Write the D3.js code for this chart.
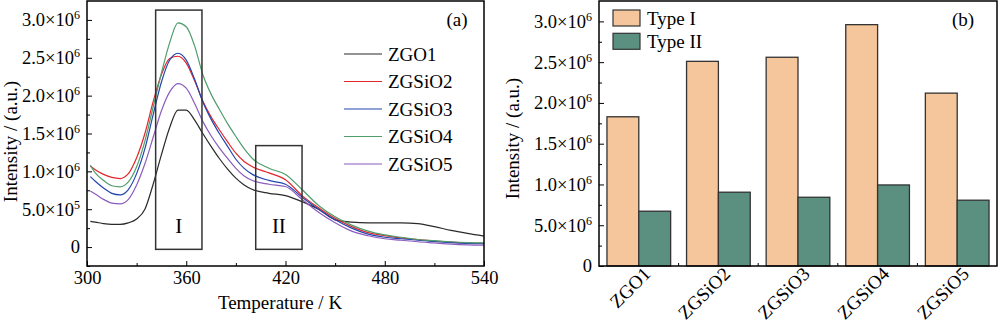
<!DOCTYPE html>
<html>
<head>
<meta charset="utf-8">
<script src="https://cdn.jsdelivr.net/npm/d3@7/dist/d3.min.js"></script>
<style>
  body { margin: 0; background: #fff; }
  svg { display: block; }
  text { font-family: "Liberation Serif", "Times New Roman", serif; fill: #000; }
</style>
</head>
<body>
<div id="chart"></div>
<script>
// Temperature grid (K) shared by all glow curves
const temps = [302, 305, 310, 315, 320, 325, 330, 335, 340, 345, 350, 355, 360, 365, 370, 375, 380, 385, 390, 395, 400, 410, 420, 430, 440, 450, 460, 470, 480, 490, 500, 510, 520, 530, 540];

// TL intensity in units of 1e6
const zgo1   = [0.34, 0.33, 0.31, 0.30, 0.30, 0.32, 0.37, 0.50, 0.83, 1.22, 1.58, 1.81, 1.81, 1.68, 1.50, 1.33, 1.17, 1.03, 0.91, 0.82, 0.76, 0.71, 0.68, 0.60, 0.50, 0.36, 0.33, 0.32, 0.32, 0.32, 0.31, 0.27, 0.22, 0.18, 0.145];
const zgsio2 = [1.07, 1.02, 0.96, 0.92, 0.905, 0.97, 1.18, 1.50, 1.92, 2.28, 2.49, 2.52, 2.43, 2.20, 1.93, 1.72, 1.55, 1.39, 1.24, 1.13, 1.06, 0.98, 0.89, 0.68, 0.52, 0.38, 0.27, 0.19, 0.15, 0.12, 0.10, 0.08, 0.065, 0.055, 0.05];
const zgsio3 = [0.93, 0.87, 0.78, 0.71, 0.69, 0.76, 0.97, 1.30, 1.75, 2.18, 2.47, 2.56, 2.47, 2.22, 1.92, 1.69, 1.50, 1.33, 1.16, 1.04, 0.96, 0.88, 0.83, 0.66, 0.50, 0.36, 0.25, 0.17, 0.13, 0.11, 0.09, 0.075, 0.06, 0.05, 0.045];
const zgsio4 = [1.08, 0.98, 0.88, 0.81, 0.795, 0.86, 1.06, 1.40, 1.85, 2.30, 2.70, 2.96, 2.91, 2.66, 2.28, 2.02, 1.82, 1.63, 1.46, 1.30, 1.17, 1.04, 0.96, 0.76, 0.55, 0.40, 0.29, 0.21, 0.16, 0.13, 0.10, 0.085, 0.07, 0.06, 0.055];
const zgsio5 = [0.74, 0.70, 0.63, 0.58, 0.57, 0.63, 0.82, 1.10, 1.45, 1.80, 2.05, 2.16, 2.10, 1.90, 1.66, 1.47, 1.31, 1.17, 1.04, 0.94, 0.88, 0.83, 0.80, 0.63, 0.46, 0.32, 0.21, 0.15, 0.11, 0.09, 0.07, 0.055, 0.04, 0.03, 0.025];

const seriesNames = ["ZGO1", "ZGSiO2", "ZGSiO3", "ZGSiO4", "ZGSiO5"];
const seriesValues = [zgo1, zgsio2, zgsio3, zgsio4, zgsio5];
const seriesColors = ["#2a2a2a", "#e3262b", "#2446ae", "#4f9d6c", "#8a5cbd"];

// Peak regions marked on the glow curves: [label, T start, T end, top (1e6)]
const regions = [["I", 341.5, 369.5, 3.13], ["II", 402, 430, 1.34]];

// Integrated intensities of the two trap types
const samples = ["ZGO1", "ZGSiO2", "ZGSiO3", "ZGSiO4", "ZGSiO5"];
const typeI  = [1.83e6, 2.51e6, 2.56e6, 2.96e6, 2.12e6];
const typeII = [0.672e6, 0.905e6, 0.843e6, 0.994e6, 0.807e6];
const typeNames = ["Type I", "Type II"];
const typeColors = ["#f5c69b", "#5b8f80"];

// Tick labels
const tempTicks = [300, 360, 420, 480, 540];
const leftYTicks = [0, 5e5, 1e6, 1.5e6, 2e6, 2.5e6, 3e6];
const leftYLabels = ["0", "5.0×10^5", "1.0×10^6", "1.5×10^6", "2.0×10^6", "2.5×10^6", "3.0×10^6"];
const rightYTicks = [0, 5e5, 1e6, 1.5e6, 2e6, 2.5e6, 3e6];
const rightYLabels = ["0", "5.0×10^6", "1.0×10^6", "1.5×10^6", "2.0×10^6", "2.5×10^6", "3.0×10^6"];

const width = 1000, height = 326;
const svg = d3.select("#chart").append("svg")
    .attr("width", width)
    .attr("height", height);
svg.append("rect").attr("width", width).attr("height", height).attr("fill", "#fff");

const fontSize = 19;
const tickFont = 18.5;

// write "a×10^b" as text with a superscript exponent
function setSciLabel(sel, labels) {
    sel.each(function(d, i) {
        const t = d3.select(this);
        const parts = labels[i].split("^");
        t.text(null);
        t.append("tspan").text(parts[0]);
        if (parts[1]) {
            t.append("tspan").attr("dy", -7).attr("font-size", 12).text(parts[1]);
        }
    });
}

function styleAxis(g) {
    g.selectAll(".domain").remove();
    g.selectAll(".tick line").attr("stroke", "#000").attr("stroke-width", 1);
    g.selectAll("text").attr("font-size", tickFont);
}

// ---------- (a) glow curves ----------
const a = { left: 87, right: 484, top: 1, bottom: 266 };
const xT = d3.scaleLinear().domain([300, 540]).range([a.left, a.right]);
const yA = d3.scaleLinear().domain([-0.25e6, 3.25e6]).range([a.bottom, a.top]);

const gA = svg.append("g");

svg.append("defs").append("clipPath").attr("id", "clipA")
    .append("rect").attr("x", a.left).attr("y", a.top)
    .attr("width", a.right - a.left).attr("height", a.bottom - a.top);

// minor ticks
gA.append("g").attr("transform", `translate(0,${a.bottom})`)
    .call(d3.axisBottom(xT).tickValues([330, 390, 450, 510]).tickSize(-3).tickFormat(""))
    .call(styleAxis);
gA.append("g").attr("transform", `translate(${a.left},0)`)
    .call(d3.axisLeft(yA).tickValues(d3.range(-2.5e5, 3.25e6, 5e5)).tickSize(-3).tickFormat(""))
    .call(styleAxis);

// major ticks
gA.append("g").attr("transform", `translate(0,${a.bottom})`)
    .call(d3.axisBottom(xT).tickValues(tempTicks).tickSize(-5).tickPadding(5).tickFormat(d3.format("d")))
    .call(styleAxis);
gA.append("g").attr("transform", `translate(${a.left},0)`)
    .call(d3.axisLeft(yA).tickValues(leftYTicks).tickSize(-5).tickPadding(7))
    .call(styleAxis)
    .selectAll(".tick text").call(setSciLabel, leftYLabels);

const line = d3.line()
    .x((d, i) => xT(temps[i]))
    .y(d => yA(d * 1e6))
    .curve(d3.curveMonotoneX);

gA.append("g").attr("clip-path", "url(#clipA)")
    .selectAll("path.curve")
    .data(seriesValues)
    .enter().append("path")
    .attr("class", "curve")
    .attr("fill", "none")
    .attr("stroke", (d, i) => seriesColors[i])
    .attr("stroke-width", 1.2)
    .attr("d", line);

// peak region boxes
const boxes = gA.selectAll("g.region").data(regions).enter().append("g").attr("class", "region");
boxes.append("rect")
    .attr("x", d => xT(d[1]))
    .attr("y", d => yA(d[3] * 1e6))
    .attr("width", d => xT(d[2]) - xT(d[1]))
    .attr("height", d => yA(-0.03e6) - yA(d[3] * 1e6))
    .attr("fill", "none")
    .attr("stroke", "#333")
    .attr("stroke-width", 1.5);
boxes.append("text")
    .attr("x", d => xT((d[1] + d[2]) / 2))
    .attr("y", 233)
    .attr("text-anchor", "middle")
    .attr("font-size", 21)
    .text(d => d[0]);

// legend
const legA = gA.selectAll("g.leg").data(seriesNames).enter().append("g")
    .attr("transform", (d, i) => `translate(344,${54 + i * 27.5})`);
legA.append("line").attr("x1", 0).attr("x2", 38)
    .attr("stroke", (d, i) => seriesColors[i]).attr("stroke-width", 1.2);
legA.append("text").attr("x", 44).attr("dy", "0.35em").attr("font-size", fontSize).text(d => d);

gA.append("text").attr("x", 457).attr("y", 26).attr("text-anchor", "middle")
    .attr("font-size", fontSize).text("(a)");

gA.append("rect").attr("x", a.left).attr("y", a.top)
    .attr("width", a.right - a.left).attr("height", a.bottom - a.top)
    .attr("fill", "none").attr("stroke", "#000").attr("stroke-width", 1.5);

gA.append("text").attr("x", 280).attr("y", 309)
    .attr("text-anchor", "middle").attr("font-size", fontSize).text("Temperature / K");
gA.append("text").attr("transform", `translate(17,${(a.top + a.bottom) / 2 + 8}) rotate(-90)`)
    .attr("text-anchor", "middle").attr("font-size", fontSize).text("Intensity / (a.u.)");

// ---------- (b) bar chart ----------
const b = { left: 599, right: 997, top: 1, bottom: 266 };
const xB = d3.scaleBand().domain(samples).range([b.left, b.right]);
const yB = d3.scaleLinear().domain([0, 3.25e6]).range([b.bottom, b.top]);
const barW = xB.bandwidth() * 0.4;

const gB = svg.append("g");

gB.append("g").attr("transform", `translate(${b.left},0)`)
    .call(d3.axisLeft(yB).tickValues(d3.range(2.5e5, 3.25e6, 5e5)).tickSize(-3).tickFormat(""))
    .call(styleAxis);
gB.append("g").attr("transform", `translate(${b.left},0)`)
    .call(d3.axisLeft(yB).tickValues(rightYTicks).tickSize(-5).tickPadding(7))
    .call(styleAxis)
    .selectAll(".tick text").call(setSciLabel, rightYLabels);

// small ticks between categories
gB.selectAll("line.sep").data(samples.slice(1)).enter().append("line")
    .attr("x1", d => xB(d)).attr("x2", d => xB(d))
    .attr("y1", b.bottom).attr("y2", b.bottom - 3)
    .attr("stroke", "#000");

const typeData = [typeI, typeII];
typeData.forEach((vals, k) => {
    gB.selectAll("rect.t" + k).data(vals).enter().append("rect")
        .attr("class", "t" + k)
        .attr("x", (d, i) => xB(samples[i]) + xB.bandwidth() / 2 - barW + k * barW)
        .attr("y", d => yB(d))
        .attr("width", barW)
        .attr("height", d => yB(0) - yB(d))
        .attr("fill", typeColors[k])
        .attr("stroke", "#333")
        .attr("stroke-width", 1.3);
});

// category labels
gB.selectAll("text.cat").data(samples).enter().append("text")
    .attr("class", "cat")
    .attr("text-anchor", "end")
    .attr("font-size", fontSize)
    .attr("transform", d => `translate(${xB(d) + xB.bandwidth() / 2 + 13},${b.bottom + 9}) rotate(-45)`)
    .text(d => d);

// legend
const legB = gB.selectAll("g.legb").data(typeNames).enter().append("g")
    .attr("transform", (d, i) => `translate(613,${10 + i * 23.3})`);
legB.append("rect").attr("width", 27).attr("height", 16)
    .attr("fill", (d, i) => typeColors[i]).attr("stroke", "#333").attr("stroke-width", 1.2);
legB.append("text").attr("x", 34).attr("y", 8).attr("dy", "0.35em")
    .attr("font-size", fontSize).text(d => d);

gB.append("text").attr("x", 963).attr("y", 26).attr("text-anchor", "middle")
    .attr("font-size", fontSize).text("(b)");

gB.append("rect").attr("x", b.left).attr("y", b.top)
    .attr("width", b.right - b.left).attr("height", b.bottom - b.top)
    .attr("fill", "none").attr("stroke", "#000").attr("stroke-width", 1.5);

gB.append("text").attr("transform", `translate(519,${(b.top + b.bottom) / 2 + 5}) rotate(-90)`)
    .attr("text-anchor", "middle").attr("font-size", fontSize).text("Intensity / (a.u.)");
</script>
</body>
</html>
